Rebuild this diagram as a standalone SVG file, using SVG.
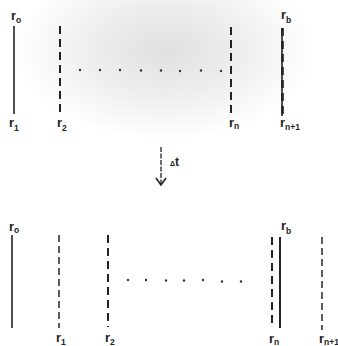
<svg xmlns="http://www.w3.org/2000/svg" width="338" height="346" viewBox="0 0 338 346">
<defs>
<radialGradient id="bg" cx="165" cy="50" r="150" gradientUnits="userSpaceOnUse" gradientTransform="translate(165 50) scale(1 0.6) translate(-165 -50)">
<stop offset="0" stop-color="#e0e0e0"/>
<stop offset="0.5" stop-color="#eeeeee"/>
<stop offset="1" stop-color="#ffffff"/>
</radialGradient>
<marker id="vhead" markerWidth="12" markerHeight="10" refX="6" refY="9" orient="0" markerUnits="userSpaceOnUse">
<path d="M1,2 L6,9 L11,2" fill="none" stroke="#222" stroke-width="1.6"/>
</marker>
<style>
.lbl{font-family:"Liberation Sans",Arial,sans-serif;font-weight:bold;font-size:13px;fill:#222}
.sub{font-size:8.5px}
.solid{stroke:#222;stroke-width:1.6;fill:none}
.dash{stroke:#222;stroke-width:2;stroke-dasharray:8 5;fill:none}
.dashthin{stroke:#333;stroke-width:1.6;stroke-dasharray:7 4;fill:none}
.dot{fill:#333}
</style>
</defs>
<rect width="338" height="346" fill="#fff"/>
<rect x="0" y="0" width="338" height="200" fill="url(#bg)"/>

<!-- top state -->
<g id="top-r0">
<line class="solid" x1="14" y1="26" x2="14" y2="114"/>
<text class="lbl" x="11" y="20">r<tspan class="sub" dy="3">o</tspan></text>
<text class="lbl" x="9" y="127">r<tspan class="sub" dy="4">1</tspan></text>
</g>
<g id="top-r2">
<line class="dash" x1="60" y1="26" x2="60" y2="114"/>
<text class="lbl" x="57" y="127">r<tspan class="sub" dy="4">2</tspan></text>
</g>
<g id="top-dots">
<circle class="dot" cx="80" cy="70" r="1.2"/>
<circle class="dot" cx="100" cy="70" r="1.2"/>
<circle class="dot" cx="120" cy="70" r="1.2"/>
<circle class="dot" cx="141" cy="70.5" r="1.2"/>
<circle class="dot" cx="161" cy="70.5" r="1.2"/>
<circle class="dot" cx="180" cy="71" r="1.2"/>
<circle class="dot" cx="201" cy="70.5" r="1.2"/>
<circle class="dot" cx="221" cy="71" r="1.2"/>
</g>
<g id="top-rn">
<line class="dash" x1="231" y1="27" x2="231" y2="114"/>
<text class="lbl" x="229" y="127">r<tspan class="sub" dy="2">n</tspan></text>
</g>
<g id="top-rb">
<line class="solid" x1="282" y1="28" x2="282" y2="116"/>
<line class="dash" x1="282.5" y1="28" x2="282.5" y2="116" style="stroke-width:2.6"/>
<text class="lbl" x="281" y="19">r<tspan class="sub" dy="4">b</tspan></text>
<text class="lbl" x="280" y="127">r<tspan class="sub" dy="3">n+1</tspan></text>
</g>

<!-- connector -->
<g id="connectors">
<line x1="161" y1="147" x2="161" y2="185" stroke="#333" stroke-width="1.4" stroke-dasharray="5 1.5" marker-end="url(#vhead)"/>
<text class="lbl" x="170" y="166" style="font-size:12px"><tspan style="font-size:7px">Δ</tspan>t</text>
</g>

<!-- bottom state -->
<g id="bot-r0">
<line class="solid" x1="12" y1="235" x2="12" y2="328"/>
<text class="lbl" x="9" y="231">r<tspan class="sub" dy="2">o</tspan></text>
</g>
<g id="bot-r1">
<line class="dashthin" x1="59" y1="235" x2="59" y2="328"/>
<text class="lbl" x="56" y="342">r<tspan class="sub" dy="3">1</tspan></text>
</g>
<g id="bot-r2">
<line class="dash" x1="108" y1="235" x2="108" y2="327"/>
<text class="lbl" x="105" y="342">r<tspan class="sub" dy="3">2</tspan></text>
</g>
<g id="bot-dots">
<circle class="dot" cx="128" cy="280" r="1.2"/>
<circle class="dot" cx="146" cy="280" r="1.2"/>
<circle class="dot" cx="166" cy="280.5" r="1.2"/>
<circle class="dot" cx="184" cy="280.5" r="1.2"/>
<circle class="dot" cx="203" cy="280" r="1.2"/>
<circle class="dot" cx="222" cy="281.5" r="1.2"/>
<circle class="dot" cx="241" cy="281.5" r="1.2"/>
</g>
<g id="bot-rn">
<line class="dash" x1="272" y1="237" x2="272" y2="328"/>
<text class="lbl" x="269" y="343">r<tspan class="sub" dy="2">n</tspan></text>
</g>
<g id="bot-rb">
<line class="solid" x1="280" y1="237" x2="280" y2="328" style="stroke-width:2"/>
<text class="lbl" x="281" y="230">r<tspan class="sub" dy="4">b</tspan></text>
</g>
<g id="bot-rn1">
<line class="dashthin" x1="322" y1="237" x2="322" y2="330"/>
<text class="lbl" x="319" y="343">r<tspan class="sub" dy="2">n+1</tspan></text>
</g>
</svg>
